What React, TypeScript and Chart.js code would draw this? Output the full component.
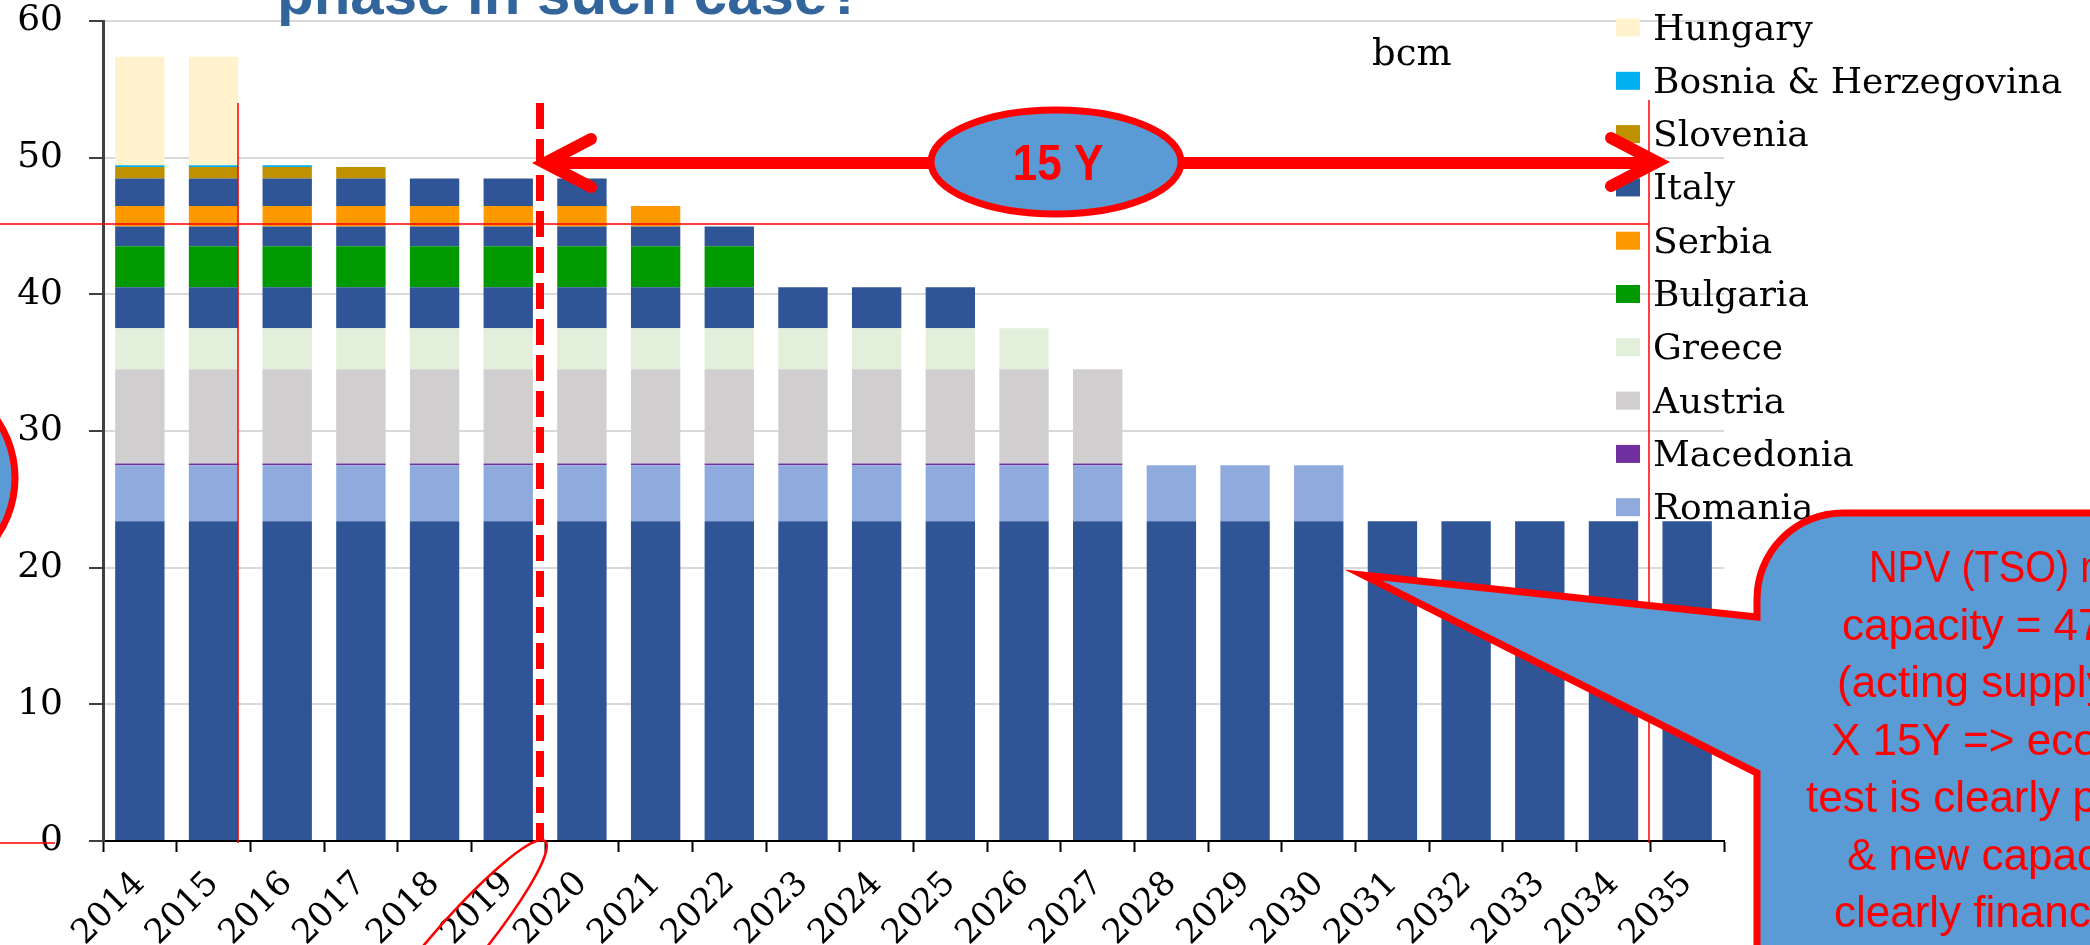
import { useEffect, useRef } from "react";
import { Chart, registerables } from "chart.js";

Chart.register(...registerables);

const W = 2090;
const H = 945;

const years = [
  "2014", "2015", "2016", "2017", "2018", "2019", "2020", "2021", "2022", "2023", "2024",
  "2025", "2026", "2027", "2028", "2029", "2030", "2031", "2032", "2033", "2034", "2035",
];

const yMin = 0;
const yMax = 60;
const yStep = 10;

const N = null;
// stacked from bottom to top (bcm)
const italyBase = [23.4, 23.4, 23.4, 23.4, 23.4, 23.4, 23.4, 23.4, 23.4, 23.4, 23.4, 23.4, 23.4, 23.4, 23.4, 23.4, 23.4, 23.4, 23.4, 23.4, 23.4, 23.4];
const romania = [4.1, 4.1, 4.1, 4.1, 4.1, 4.1, 4.1, 4.1, 4.1, 4.1, 4.1, 4.1, 4.1, 4.1, 4.1, 4.1, 4.1, N, N, N, N, N];
const macedonia = [0.12, 0.12, 0.12, 0.12, 0.12, 0.12, 0.12, 0.12, 0.12, 0.12, 0.12, 0.12, 0.12, 0.12, N, N, N, N, N, N, N, N];
const austria = [6.9, 6.9, 6.9, 6.9, 6.9, 6.9, 6.9, 6.9, 6.9, 6.9, 6.9, 6.9, 6.9, 6.9, N, N, N, N, N, N, N, N];
const greece = [3.0, 3.0, 3.0, 3.0, 3.0, 3.0, 3.0, 3.0, 3.0, 3.0, 3.0, 3.0, 3.0, N, N, N, N, N, N, N, N, N];
const italySecond = [3.0, 3.0, 3.0, 3.0, 3.0, 3.0, 3.0, 3.0, 3.0, 3.0, 3.0, 3.0, N, N, N, N, N, N, N, N, N, N];
const bulgaria = [3.0, 3.0, 3.0, 3.0, 3.0, 3.0, 3.0, 3.0, 3.0, N, N, N, N, N, N, N, N, N, N, N, N, N];
const italyThird = [1.45, 1.45, 1.45, 1.45, 1.45, 1.45, 1.45, 1.45, 1.45, N, N, N, N, N, N, N, N, N, N, N, N, N];
const serbia = [1.5, 1.5, 1.5, 1.5, 1.5, 1.5, 1.5, 1.5, N, N, N, N, N, N, N, N, N, N, N, N, N, N];
const italy = [2.0, 2.0, 2.0, 2.0, 2.0, 2.0, 2.0, N, N, N, N, N, N, N, N, N, N, N, N, N, N, N];
const slovenia = [0.85, 0.85, 0.85, 0.85, N, N, N, N, N, N, N, N, N, N, N, N, N, N, N, N, N, N];
const bosnia = [0.12, 0.12, 0.12, N, N, N, N, N, N, N, N, N, N, N, N, N, N, N, N, N, N, N];
const hungary = [7.95, 7.95, N, N, N, N, N, N, N, N, N, N, N, N, N, N, N, N, N, N, N, N];

const unitLabel = "bcm";
const titleText = "phase in such case?";
const bubbleText = "15 Y";
const calloutLines = [
  "NPV (TSO) new",
  "capacity = 47 bcm",
  "(acting supply)",
  "X 15Y => economic",
  "test is clearly passed",
  "& new capacity",
  "clearly financed",
];

const SERIF = '"DejaVu Serif", "Liberation Serif", serif';
const SANS = '"Liberation Sans", Arial, sans-serif';
const RED = "#FF0000";
const FILLBLUE = "#5B9BD5";

const overlayPlugin = {
  id: "overlay",
  afterDraw(chart: any) {
    const ctx = chart.ctx as CanvasRenderingContext2D;
    ctx.save();

    // unit label
    ctx.fillStyle = "#000";
    ctx.font = `37px ${SERIF}`;
    ctx.textAlign = "left";
    ctx.textBaseline = "alphabetic";
    ctx.fillText(unitLabel, 1372, 65);

    // legend (reverse stacking order)
    const items = chart.data.datasets.filter((d: any) => d.inLegend !== false).slice().reverse();
    items.forEach((d: any, k: number) => {
      const cy = 27.5 + k * 53.3;
      ctx.fillStyle = d.backgroundColor;
      ctx.fillRect(1616, cy - 9, 24, 18);
      ctx.fillStyle = "#000";
      ctx.font = `36px ${SERIF}`;
      ctx.textAlign = "left";
      ctx.textBaseline = "alphabetic";
      ctx.fillText(d.label, 1653, cy + 12);
    });

    // title fragment
    ctx.fillStyle = "#31659C";
    ctx.font = `bold 60px ${SANS}`;
    ctx.textAlign = "left";
    ctx.fillText(titleText, 277, 14);

    // thin red lines
    ctx.strokeStyle = RED;
    ctx.lineWidth = 1.5;
    ctx.setLineDash([]);
    ctx.beginPath();
    ctx.moveTo(0, 224); ctx.lineTo(1649, 224);
    ctx.moveTo(238, 103); ctx.lineTo(238, 843);
    ctx.moveTo(1649, 100); ctx.lineTo(1649, 843);
    ctx.moveTo(0, 843); ctx.lineTo(55, 843);
    ctx.stroke();

    // left partial circle
    ctx.beginPath();
    ctx.arc(-88, 478, 103, 0, Math.PI * 2);
    ctx.fillStyle = FILLBLUE;
    ctx.fill();
    ctx.lineWidth = 7;
    ctx.strokeStyle = RED;
    ctx.stroke();

    // ellipse around 2019 label
    ctx.beginPath();
    ctx.ellipse(444, 960, 156, 25, -0.867, 0, Math.PI * 2);
    ctx.lineWidth = 2.5;
    ctx.stroke();

    // dashed vertical line
    ctx.beginPath();
    ctx.setLineDash([26, 10]);
    ctx.lineWidth = 8;
    ctx.moveTo(540, 103);
    ctx.lineTo(540, 841);
    ctx.stroke();
    ctx.setLineDash([]);

    // double arrow
    ctx.lineWidth = 12;
    ctx.lineCap = "round";
    ctx.lineJoin = "miter";
    ctx.beginPath();
    ctx.moveTo(547, 163); ctx.lineTo(1655, 163);
    ctx.stroke();
    ctx.beginPath();
    ctx.moveTo(591, 139); ctx.lineTo(545, 163); ctx.lineTo(591, 187);
    ctx.stroke();
    ctx.beginPath();
    ctx.moveTo(1611, 138); ctx.lineTo(1657, 162); ctx.lineTo(1611, 186);
    ctx.stroke();
    ctx.lineCap = "butt";

    // 15 Y bubble
    ctx.beginPath();
    ctx.ellipse(1056, 162, 125, 52, 0, 0, Math.PI * 2);
    ctx.fillStyle = FILLBLUE;
    ctx.fill();
    ctx.lineWidth = 7;
    ctx.strokeStyle = RED;
    ctx.stroke();
    ctx.save();
    ctx.translate(1058, 180);
    ctx.scale(0.88, 1);
    ctx.fillStyle = RED;
    ctx.font = `bold 50px ${SANS}`;
    ctx.textAlign = "center";
    ctx.textBaseline = "alphabetic";
    ctx.fillText(bubbleText, 0, 0);
    ctx.restore();

    // callout box
    const bx = 1757, by = 513, r = 86;
    ctx.beginPath();
    ctx.moveTo(bx, by + r);
    ctx.arcTo(bx, by, bx + r, by, r);
    ctx.lineTo(W + 50, by);
    ctx.lineTo(W + 50, H + 50);
    ctx.lineTo(bx, H + 50);
    ctx.lineTo(bx, 773);
    ctx.lineTo(1363, 575);
    ctx.lineTo(bx, 617);
    ctx.closePath();
    ctx.fillStyle = FILLBLUE;
    ctx.fill();
    ctx.lineWidth = 7;
    ctx.lineJoin = "miter";
    ctx.strokeStyle = RED;
    ctx.stroke();

    const starts = [1869, 1842, 1837, 1831, 1806, 1847, 1834];
    const squeeze = [0.9, 1, 1, 1, 1, 1, 1];
    ctx.fillStyle = RED;
    ctx.font = `44px ${SANS}`;
    ctx.textAlign = "left";
    calloutLines.forEach((t, i) => {
      ctx.save();
      ctx.translate(starts[i], 582 + i * 57.5);
      ctx.scale(squeeze[i], 1);
      ctx.fillText(t, 0, 0);
      ctx.restore();
    });

    ctx.restore();
  },
};

export default function App() {
  const ref = useRef<HTMLCanvasElement | null>(null);

  useEffect(() => {
    if (!ref.current) return;
    const mk = (label: string, data: (number | null)[], color: string, inLegend = true) => ({
      label,
      data,
      backgroundColor: color,
      borderWidth: 0,
      inLegend,
      categoryPercentage: 1,
      barPercentage: 0.67,
    });
    const chart = new Chart(ref.current, {
      type: "bar",
      data: {
        labels: years,
        datasets: [
          mk("Italy", italyBase, "#2F5597", false),
          mk("Romania", romania, "#8FAADC"),
          mk("Macedonia", macedonia, "#7030A0"),
          mk("Austria", austria, "#D0CECE"),
          mk("Greece", greece, "#E2EFDA"),
          mk("Italy", italySecond, "#2F5597", false),
          mk("Bulgaria", bulgaria, "#009900"),
          mk("Italy", italyThird, "#2F5597", false),
          mk("Serbia", serbia, "#FF9900"),
          mk("Italy", italy, "#2F5597"),
          mk("Slovenia", slovenia, "#BF9000"),
          mk("Bosnia & Herzegovina", bosnia, "#00B0F0"),
          mk("Hungary", hungary, "#FFF2CC"),
        ] as any,
      },
      options: {
        responsive: false,
        animation: false,
        devicePixelRatio: 1,
        layout: { padding: { left: 0, right: 366, top: 21, bottom: 0 } },
        plugins: {
          legend: { display: false },
          tooltip: { enabled: false },
        },
        scales: {
          x: {
            stacked: true,
            offset: true,
            grid: {
              offset: true,
              drawOnChartArea: false,
              drawTicks: true,
              tickLength: 11,
              tickWidth: 2,
              tickColor: "#000",
            },
            border: { display: true, color: "#000", width: 2 },
            ticks: {
              color: "#000",
              font: { family: SERIF, size: 34 },
              minRotation: 45,
              maxRotation: 45,
              autoSkip: false,
              padding: 12,
            },
            afterFit: (s: any) => {
              s.height = 104;
            },
          },
          y: {
            stacked: true,
            min: yMin,
            max: yMax,
            ticks: {
              stepSize: yStep,
              color: "#000",
              font: { family: SERIF, size: 36 },
              padding: 26,
            },
            grid: {
              color: "#D9D9D9",
              lineWidth: 2,
              tickColor: "#404040",
              tickLength: 14,
              tickWidth: 2,
            },
            border: { display: true, color: "#404040", width: 3 },
            afterFit: (s: any) => {
              s.width = 103;
              s.paddingTop = 0;
              s.paddingBottom = 0;
            },
          },
        },
      } as any,
      plugins: [overlayPlugin],
    });
    return () => chart.destroy();
  }, []);

  return (
    <div style={{ position: "fixed", left: 0, top: 0, width: W, height: H, background: "#fff" }}>
      <canvas ref={ref} width={W} height={H} style={{ width: W, height: H, display: "block" }} />
    </div>
  );
}
